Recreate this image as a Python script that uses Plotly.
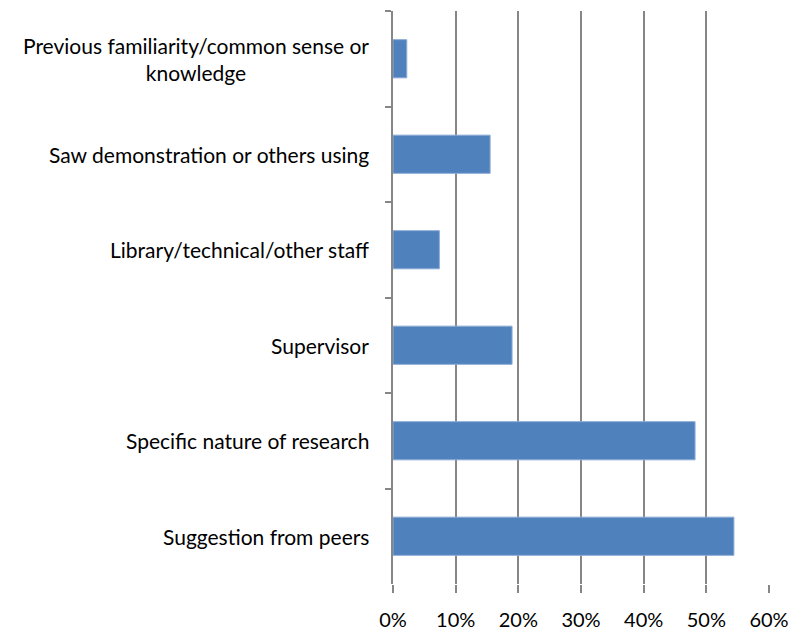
import plotly.graph_objects as go

# categories top to bottom, as in the source chart
categories = [
    "Previous familiarity/common sense or<br>knowledge",
    "Saw demonstration or others using",
    "Library/technical/other staff",
    "Supervisor",
    "Specific nature of research",
    "Suggestion from peers",
]

# share of respondents (fraction)
shares = [0.022, 0.155, 0.074, 0.190, 0.482, 0.544]

x_ticks = [0, 0.1, 0.2, 0.3, 0.4, 0.5, 0.6]
x_tick_labels = ["0%", "10%", "20%", "30%", "40%", "50%", "60%"]

grey = "#868686"
font_family = "Lato"

fig = go.Figure()

fig.add_trace(
    go.Bar(
        x=shares,
        y=categories,
        orientation="h",
        marker=dict(color="#4F81BD", line=dict(color="#8DACD6", width=1)),
        width=0.4,
        hoverinfo="x+y",
    )
)

# centred category labels left of the axis
for cat in categories:
    fig.add_annotation(
        x=0,
        xref="paper",
        y=cat,
        yref="y",
        text=cat,
        showarrow=False,
        xanchor="right",
        yanchor="middle",
        align="center",
        xshift=-22,
        font=dict(family=font_family, size=21, color="#000000"),
    )

fig.update_layout(
    width=798,
    height=631,
    plot_bgcolor="white",
    paper_bgcolor="white",
    showlegend=False,
    margin=dict(l=385, r=37, t=3, b=55),
    font=dict(family=font_family, size=20, color="#000000"),
)

fig.update_xaxes(
    range=[0, 0.6],
    tickmode="array",
    tickvals=x_ticks,
    ticktext=x_tick_labels,
    showgrid=True,
    gridcolor=grey,
    gridwidth=1.5,
    zeroline=False,
    showline=False,
    ticks="outside",
    ticklen=8,
    tickwidth=1.5,
    tickcolor=grey,
    ticklabelstandoff=10,
    tickfont=dict(family=font_family, size=20),
)

fig.update_yaxes(
    autorange="reversed",
    showticklabels=False,
    showgrid=False,
    showline=True,
    linecolor=grey,
    linewidth=2,
    ticks="outside",
    tickson="boundaries",
    ticklen=6,
    tickwidth=2,
    tickcolor=grey,
)

fig.write_html("out.html")
